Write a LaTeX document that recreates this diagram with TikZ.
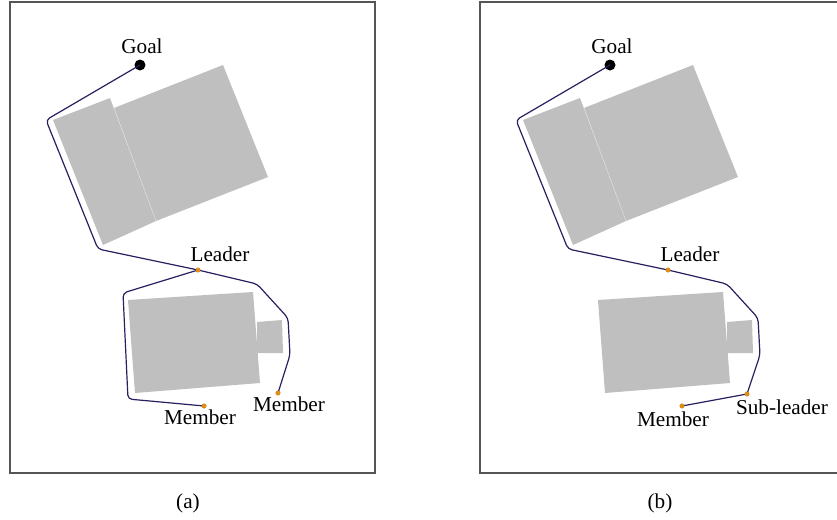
\documentclass[tikz,border=0pt]{standalone}
\usepackage{fontspec}
\setmainfont{Liberation Serif}
\definecolor{obstaclegray}{RGB}{190,191,190}
\definecolor{routeblue}{RGB}{38,32,96}
\definecolor{robotorange}{RGB}{222,140,28}
\definecolor{framegray}{RGB}{85,85,85}
\newcommand{\obstacles}{%
	\fill[obstaclegray] (53,120) -- (110,98) -- (156,221) -- (103,245) -- cycle;
	\fill[obstaclegray] (114,108) -- (223,65) -- (268,177) -- (156,221) -- cycle;
	\draw[obstaclegray!40!white, line width=0.15pt] (114,108) -- (156,221);
	\fill[obstaclegray] (128,300) -- (253,292) -- (260,383) -- (135,393) -- cycle;
	\fill[obstaclegray] (257,322) -- (282,320) -- (283,353) -- (257,353) -- cycle;
}
\tikzset{
	arena/.style={draw=framegray, line width=0.75pt},
	route/.style={draw=routeblue, line width=0.6pt, rounded corners=2pt},
	robot/.style={circle, fill=robotorange, inner sep=0pt, minimum size=2.4pt},
	goalpt/.style={circle, fill=black, inner sep=0pt, minimum size=5.5pt},
	tag/.style={font=\fontsize{10.6}{12}\selectfont, inner sep=0pt},
}

\begin{document}
\begin{tikzpicture}[x=0.5pt, y=-0.5pt]
	\useasboundingbox (0,0) rectangle (837,520);

	% (a) leader with two members
	\draw[arena] (10,2) rectangle (375,473);
	\obstacles
	\node[goalpt] (a-goal) at (140,65) {};
	\node[tag] (a-goaltext) at (142,46) {Goal};
	\node[robot] (a-leader) at (198,270) {};
	\node[tag] (a-leadertext) at (220,254) {Leader};
	\node[robot] (a-memberr) at (278,393) {};
	\node[tag] (a-memberrtext) at (289,404) {Member};
	\node[robot] (a-memberl) at (204,406) {};
	\node[tag] (a-memberltext) at (200,417) {Member};
	\coordinate (a-c1) at (46,120);
	\coordinate (a-c2) at (98,249);
	\coordinate (a-r1) at (257,284);
	\coordinate (a-r2) at (288,318);
	\coordinate (a-r3) at (290,355);
	\coordinate (a-l1) at (123,293);
	\coordinate (a-l2) at (128,399);
	\draw[route] (a-goal.center) -- (a-c1) -- (a-c2) -- (a-leader.center);
	\draw[route] (a-leader.center) -- (a-r1) -- (a-r2) -- (a-r3) -- (a-memberr.center);
	\draw[route] (a-leader.center) -- (a-l1) -- (a-l2) -- (a-memberl.center);
	\node[robot] at (a-leader) {};
	\node[robot] at (a-memberr) {};
	\node[robot] at (a-memberl) {};
	\node[tag] (a-caption) at (188,503) {(a)};

	% (b) leader, sub-leader and member
	\begin{scope}[shift={(470,0)}]
		\draw[arena] (367,2) -- (10,2) -- (10,473) -- (367,473);
		\obstacles
		\node[goalpt] (b-goal) at (140,65) {};
		\node[tag] (b-goaltext) at (142,46) {Goal};
		\node[robot] (b-leader) at (198,270) {};
		\node[tag] (b-leadertext) at (220,254) {Leader};
		\node[robot] (b-sub) at (277,394) {};
		\node[tag] (b-subtext) at (312,407) {Sub-leader};
		\node[robot] (b-member) at (212,406) {};
		\node[tag] (b-membertext) at (203,419) {Member};
		\coordinate (b-c1) at (46,120);
		\coordinate (b-c2) at (98,249);
		\coordinate (b-r1) at (257,284);
		\coordinate (b-r2) at (288,318);
		\coordinate (b-r3) at (290,355);
		\draw[route] (b-goal.center) -- (b-c1) -- (b-c2) -- (b-leader.center) -- (b-r1) -- (b-r2) -- (b-r3) -- (b-sub.center);
		\draw[route] (b-sub.center) -- (b-member.center);
		\node[robot] at (b-leader) {};
		\node[robot] at (b-sub) {};
		\node[robot] at (b-member) {};
		\node[tag] (b-caption) at (190,503) {(b)};
	\end{scope}
\end{tikzpicture}
\end{document}
